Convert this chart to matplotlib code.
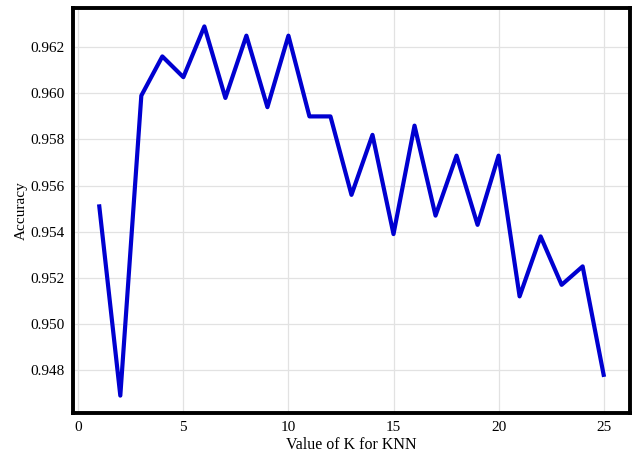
import matplotlib.pyplot as plt

# accuracy of KNN for each K
k_values = list(range(1, 26))
accuracy = [0.9551, 0.9469, 0.9599, 0.9616, 0.9607, 0.9629, 0.9598, 0.9625,
            0.9594, 0.9625, 0.9590, 0.9590, 0.9556, 0.9582, 0.9539, 0.9586,
            0.9547, 0.9573, 0.9543, 0.9573, 0.9512, 0.9538, 0.9517, 0.9525,
            0.9478]
x_ticks = [0, 5, 10, 15, 20, 25]
y_ticks = [0.948, 0.950, 0.952, 0.954, 0.956, 0.958, 0.960, 0.962]

plt.rcParams['font.family'] = ['Liberation Serif', 'DejaVu Serif']

fig = plt.figure(figsize=(6.35, 4.55), dpi=100)
ax = fig.add_axes([0.115, 0.092, 0.877, 0.89])

ax.plot(k_values, accuracy, color='#0000d0', linewidth=3)

ax.set_xlim(-0.25, 26.25)
ax.set_ylim(0.94614, 0.96369)
ax.set_xticks(x_ticks)
ax.set_yticks(y_ticks)
ax.set_yticklabels([f'{v:.3f}' for v in y_ticks])
ax.tick_params(length=0, labelsize=11, pad=6)
ax.grid(True, color='#e2e2e2', linewidth=0.9)
ax.set_axisbelow(True)

for spine in ax.spines.values():
    spine.set_linewidth(2.8)
    spine.set_color('black')

ax.set_xlabel('Value of K for KNN', fontsize=11.5, labelpad=2)
ax.set_ylabel('Accuracy', fontsize=11, labelpad=2)

plt.savefig('out.png', dpi=100)
